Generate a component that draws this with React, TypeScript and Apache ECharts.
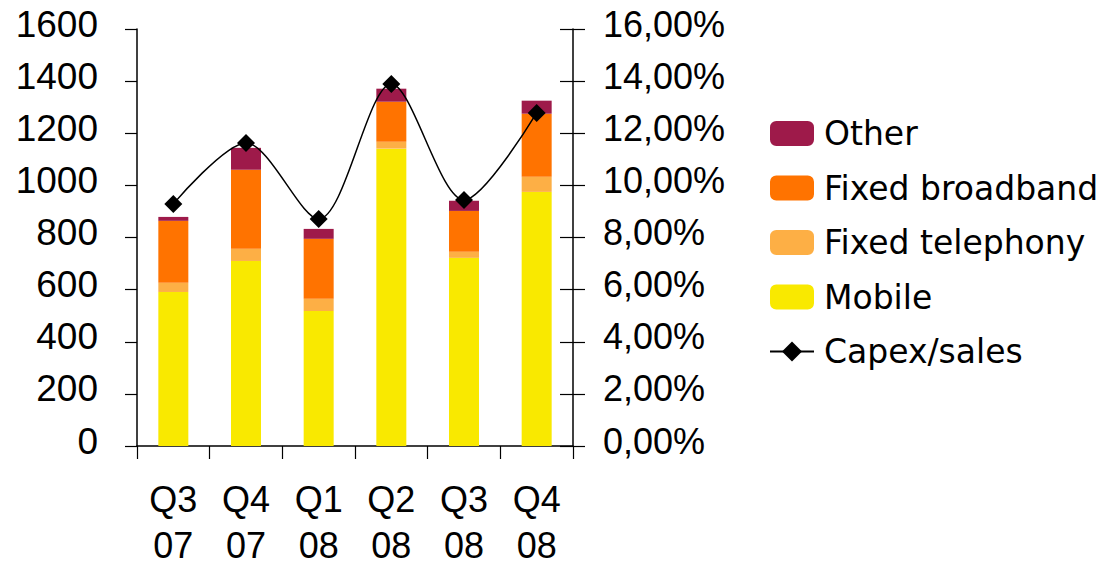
import React, { useEffect, useRef } from "react";
import * as echarts from "echarts";

const categories = ["Q3\n07", "Q4\n07", "Q1\n08", "Q2\n08", "Q3\n08", "Q4\n08"];
const mobile = [591, 710, 518, 1141, 722, 975];
const fixedTelephony = [35, 47, 47, 26, 23, 58];
const fixedBroadband = [238, 303, 230, 154, 157, 242];
const other = [15, 84, 38, 50, 39, 50];
const capexSales = [9.29, 11.63, 8.71, 13.89, 9.44, 12.78];
const leftTicks = [0, 1600, 200];
const rightTicks = [0, 16, 2];

const FONT = "Liberation Sans";
const LEGEND_FONT = "DejaVu Sans";

export default function App() {
  const ref = useRef<HTMLDivElement>(null);
  useEffect(() => {
    if (!ref.current) return;
    const chart = echarts.init(ref.current, null, { renderer: "svg" });
    const barBase = {
      type: "bar",
      stack: "capex",
      barWidth: 30,
      yAxisIndex: 0,
    };
    chart.setOption({
      animation: false,
      backgroundColor: "#ffffff",
      grid: {
        left: 137,
        right: 533,
        top: 29,
        bottom: 118,
        containLabel: false,
        outerBoundsMode: "none",
      },
      legend: {
        orient: "vertical",
        left: 764,
        top: 112,
        itemWidth: 44,
        itemHeight: 25,
        itemGap: 21.5,
        data: ["Other", "Fixed broadband", "Fixed telephony", "Mobile", "Capex/sales"],
        textStyle: {
          fontFamily: LEGEND_FONT,
          fontSize: 33,
          lineHeight: 30,
          color: "#000",
          padding: [0, 0, 0, 5],
        },
      },
      xAxis: {
        type: "category",
        data: categories,
        axisLine: { lineStyle: { color: "#000", width: 1.5 } },
        axisTick: { show: true, length: 13, lineStyle: { color: "#000", width: 1.2 } },
        axisLabel: {
          fontFamily: FONT,
          fontSize: 36,
          color: "#000",
          lineHeight: 46,
          margin: 30,
          interval: 0,
        },
      },
      yAxis: [
        {
          type: "value",
          position: "left",
          min: leftTicks[0],
          max: leftTicks[1],
          interval: leftTicks[2],
          splitLine: { show: false },
          axisLine: { show: true, lineStyle: { color: "#000", width: 1.5 } },
          axisTick: { show: true, length: 12, lineStyle: { color: "#000", width: 1.2 } },
          axisLabel: {
            fontFamily: FONT,
            fontSize: 37,
            color: "#000",
            margin: 39,
            verticalAlign: "bottom",
            lineHeight: 10,
            formatter: (v: number) => String(v),
          },
        },
        {
          type: "value",
          position: "right",
          min: rightTicks[0],
          max: rightTicks[1],
          interval: rightTicks[2],
          splitLine: { show: false },
          axisLine: { show: true, lineStyle: { color: "#000", width: 1.5 } },
          axisTick: { show: true, length: 12, lineStyle: { color: "#000", width: 1.2 } },
          axisLabel: {
            fontFamily: FONT,
            fontSize: 36,
            color: "#000",
            margin: 30,
            verticalAlign: "bottom",
            lineHeight: 10,
            formatter: (v: number) => v.toFixed(2).replace(".", ",") + "%",
          },
        },
        {
          type: "value",
          position: "right",
          min: rightTicks[0],
          max: rightTicks[1],
          interval: rightTicks[2],
          splitLine: { show: false },
          axisLine: { show: false },
          axisTick: { show: true, inside: true, length: 13, lineStyle: { color: "#000", width: 1.2 } },
          axisLabel: { show: false },
        },
      ],
      series: [
        { ...barBase, name: "Mobile", data: mobile, itemStyle: { color: "#F9E900" } },
        { ...barBase, name: "Fixed telephony", data: fixedTelephony, itemStyle: { color: "#FDAF45" } },
        { ...barBase, name: "Fixed broadband", data: fixedBroadband, itemStyle: { color: "#FF7300" } },
        { ...barBase, name: "Other", data: other, itemStyle: { color: "#9E1A4A" } },
        {
          type: "line",
          name: "Capex/sales",
          yAxisIndex: 1,
          data: capexSales,
          smooth: 0.3,
          symbol: "diamond",
          symbolSize: 18,
          itemStyle: { color: "#000" },
          lineStyle: { color: "#000", width: 1.5 },
          z: 5,
        },
      ],
    });
    return () => chart.dispose();
  }, []);
  return (
    <div
      ref={ref}
      style={{ position: "fixed", left: 0, top: 0, width: 1106, height: 564 }}
    />
  );
}
